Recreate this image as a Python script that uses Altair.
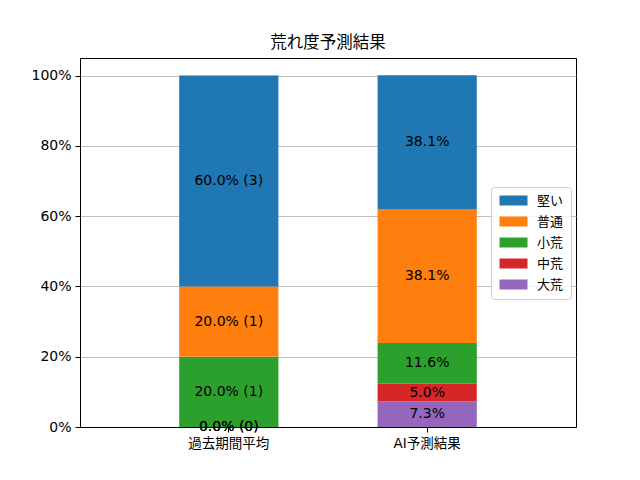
import altair as alt
import pandas as pd

categories = ["過去期間平均", "AI予測結果"]
series = ["大荒", "中荒", "小荒", "普通", "堅い"]          # stack order, bottom -> top
legend_order = ["堅い", "普通", "小荒", "中荒", "大荒"]
colors = {"堅い": "#1f77b4", "普通": "#ff7f0e", "小荒": "#2ca02c", "中荒": "#d62728", "大荒": "#9467bd"}

past_pct = [0.0, 0.0, 20.0, 20.0, 60.0]
past_cnt = [0, 0, 1, 1, 3]
ai_pct = [7.3, 5.0, 11.6, 38.1, 38.1]

rows = []
for i, s in enumerate(series):
    rows.append({"cat": categories[0], "series": s, "order": i, "value": past_pct[i],
                 "label": f"{past_pct[i]:.1f}% ({past_cnt[i]})"})
    rows.append({"cat": categories[1], "series": s, "order": i, "value": ai_pct[i],
                 "label": f"{ai_pct[i]:.1f}%"})
df = pd.DataFrame(rows)

FONT = "DejaVu Sans, Noto Sans CJK JP"
JFONT = "Noto Sans CJK JP"

base = alt.Chart(df).transform_stack(
    stack="value", groupby=["cat"], sort=[alt.SortField("order", order="ascending")], as_=["y0", "y1"]
).transform_calculate(mid="(datum.y0 + datum.y1) / 2")

x_enc = alt.X("cat:N", sort=categories, title=None,
              scale=alt.Scale(paddingInner=0.5, paddingOuter=0.5),
              axis=alt.Axis(labelAngle=0, tickSize=5, tickWidth=1, tickColor="black",
                            domainColor="black", labelFontSize=13.5, labelColor="black",
                            labelFont=FONT, labelPadding=4, grid=False))

bars = base.mark_bar().encode(
    x=x_enc,
    y=alt.Y("y0:Q", title=None, scale=alt.Scale(domain=[0, 105], nice=False),
            axis=alt.Axis(values=[0, 20, 40, 60, 80, 100], labelExpr="datum.value + '%'",
                          grid=True, gridColor="#b0b0b0", gridWidth=0.8,
                          tickSize=5, tickWidth=1, tickColor="black", domainColor="black",
                          labelFontSize=14, labelColor="black", labelFont=FONT, labelPadding=4)),
    y2="y1:Q",
    color=alt.Color("series:N",
                    scale=alt.Scale(domain=legend_order, range=[colors[s] for s in legend_order]),
                    legend=alt.Legend(title=None, orient="none", legendX=411, legendY=129,
                                      symbolType="M-1,-1H4.6V1H-1Z", symbolSize=100,
                                      symbolStrokeWidth=0, labelFont=JFONT, labelFontSize=13,
                                      labelColor="black", labelOffset=26, rowPadding=7,
                                      padding=7, strokeColor="#cccccc", cornerRadius=3,
                                      fillColor="rgba(255,255,255,0.8)")),
)

texts = base.mark_text(font=FONT, fontSize=14, color="black", baseline="middle").encode(
    x=alt.X("cat:N", sort=categories),
    y=alt.Y("mid:Q"),
    text="label:N",
)

chart = alt.layer(bars, texts).properties(
    width=496, height=369,
    title=alt.TitleParams("荒れ度予測結果", font=JFONT, fontSize=16.5, fontWeight="normal",
                          color="black", offset=7, anchor="middle"),
    autosize=alt.AutoSizeParams(type="none"),
    padding={"left": 72, "top": 50, "right": 56, "bottom": 45},
).configure_view(stroke="black", strokeWidth=1)

chart.save("out.html", embed_options={"renderer": "svg", "actions": False})
